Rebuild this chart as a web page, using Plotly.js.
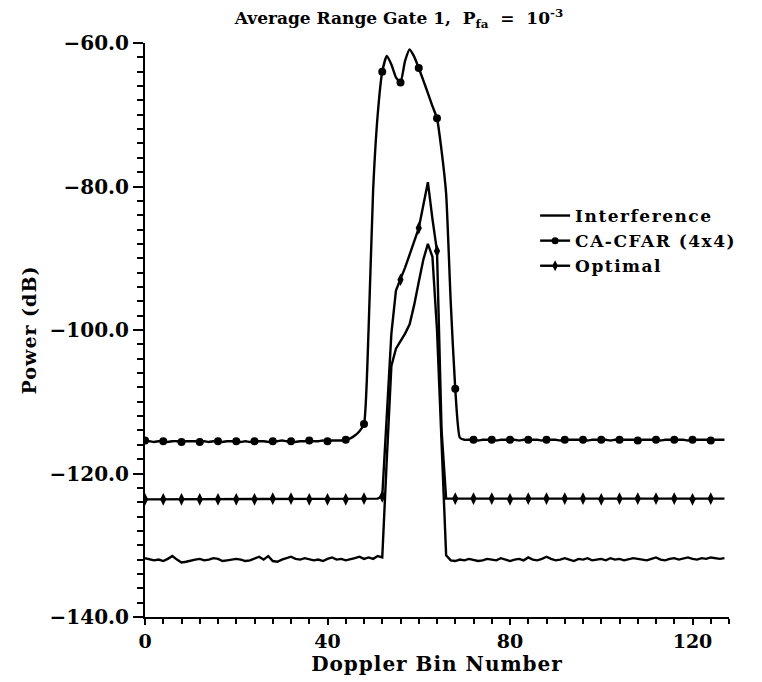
<!DOCTYPE html>
<html>
<head>
<meta charset="utf-8">
<script src="https://cdn.plot.ly/plotly-3.0.1.min.js"></script>
<style>
html,body{margin:0;padding:0;background:#fff;}
#chart{width:762px;height:682px;}
.legendtext{letter-spacing:1.5px;}
.xtitle,.ytitle{letter-spacing:1px;}
</style>
</head>
<body>
<div id="chart"></div>
<script>
// Doppler bins 0..127
const bins = Array.from({length: 128}, (_, i) => i);

// Interference (dB)
const interference = [
-131.8,-131.9,-132.1,-132.0,-132.2,-131.9,-131.5,-132.0,-132.4,-132.3,
-132.1,-132.0,-131.9,-132.1,-132.0,-131.8,-131.9,-132.2,-132.1,-132.0,
-131.9,-132.0,-132.2,-132.1,-131.9,-131.6,-132.0,-131.5,-132.2,-132.3,
-132.0,-131.8,-131.6,-131.9,-132.0,-131.8,-131.9,-132.1,-132.0,-132.2,
-131.9,-131.7,-132.0,-131.9,-132.1,-132.0,-131.8,-131.6,-131.9,-131.7,
-131.9,-131.5,-131.7,-118.0,-105.0,-102.6,-101.6,-100.5,-99.2,-96.5,
-93.3,-90.2,-88.0,-89.8,-100.0,-116.0,-131.4,-132.1,-132.2,-132.0,
-132.1,-131.9,-132.0,-132.2,-132.1,-131.9,-132.0,-132.1,-131.8,-132.0,
-132.2,-132.0,-131.9,-132.1,-131.7,-132.0,-132.1,-131.9,-131.6,-131.9,
-132.1,-132.0,-131.8,-132.0,-132.2,-131.9,-132.0,-131.8,-132.1,-132.0,
-131.9,-132.1,-131.8,-132.0,-131.9,-132.1,-132.0,-131.8,-131.9,-132.0,
-132.1,-131.9,-131.7,-132.0,-132.1,-131.9,-131.8,-132.0,-131.9,-131.7,
-131.9,-132.0,-131.8,-131.9,-131.7,-131.8,-131.9,-131.8
];

// CA-CFAR (4x4) (dB)
const cacfar = [
-115.4,-115.5,-115.6,-115.5,-115.5,-115.6,-115.5,-115.5,-115.6,-115.5,
-115.5,-115.5,-115.6,-115.5,-115.6,-115.5,-115.5,-115.6,-115.5,-115.5,
-115.5,-115.6,-115.5,-115.6,-115.5,-115.5,-115.5,-115.6,-115.5,-115.5,
-115.4,-115.5,-115.5,-115.6,-115.5,-115.5,-115.4,-115.5,-115.5,-115.4,
-115.5,-115.4,-115.4,-115.4,-115.3,-115.1,-114.7,-114.1,-113.1,-100.0,
-80.5,-70.0,-64.0,-61.8,-63.0,-64.8,-65.5,-62.5,-60.9,-61.9,
-63.5,-65.2,-67.0,-68.8,-70.5,-75.0,-81.0,-96.0,-108.2,-115.0,
-115.3,-115.3,-115.3,-115.4,-115.3,-115.3,-115.3,-115.4,-115.3,-115.3,
-115.3,-115.3,-115.4,-115.3,-115.3,-115.3,-115.3,-115.4,-115.3,-115.3,
-115.3,-115.4,-115.3,-115.3,-115.3,-115.3,-115.3,-115.4,-115.3,-115.3,
-115.3,-115.3,-115.4,-115.3,-115.3,-115.3,-115.3,-115.3,-115.4,-115.3,
-115.3,-115.3,-115.3,-115.4,-115.3,-115.3,-115.3,-115.3,-115.3,-115.4,
-115.3,-115.3,-115.3,-115.3,-115.4,-115.3,-115.3,-115.3
];

// Optimal (dB)
const optimal = [
-123.6,-123.6,-123.5,-123.6,-123.6,-123.6,-123.5,-123.6,-123.6,-123.6,
-123.5,-123.6,-123.6,-123.6,-123.5,-123.6,-123.6,-123.6,-123.6,-123.5,
-123.6,-123.6,-123.6,-123.5,-123.6,-123.6,-123.6,-123.6,-123.5,-123.6,
-123.6,-123.6,-123.5,-123.6,-123.6,-123.6,-123.6,-123.5,-123.6,-123.6,
-123.6,-123.5,-123.6,-123.6,-123.6,-123.5,-123.6,-123.6,-123.5,-123.6,
-123.6,-123.5,-123.2,-111.0,-100.5,-94.5,-93.0,-91.3,-89.5,-87.6,
-85.8,-82.6,-79.4,-84.5,-89.0,-114.0,-123.5,-123.5,-123.5,-123.6,
-123.5,-123.5,-123.5,-123.5,-123.6,-123.5,-123.5,-123.5,-123.5,-123.5,
-123.6,-123.5,-123.5,-123.5,-123.5,-123.5,-123.6,-123.5,-123.5,-123.5,
-123.5,-123.5,-123.5,-123.6,-123.5,-123.5,-123.5,-123.5,-123.5,-123.5,
-123.6,-123.5,-123.5,-123.5,-123.5,-123.5,-123.5,-123.6,-123.5,-123.5,
-123.5,-123.5,-123.5,-123.5,-123.6,-123.5,-123.5,-123.5,-123.5,-123.5,
-123.6,-123.5,-123.5,-123.5,-123.5,-123.5,-123.5,-123.5
];

const seriesNames = ["Interference", "CA-CFAR (4x4)", "Optimal"];
const xTickVals = [0, 40, 80, 120];
const yTickVals = [-140, -120, -100, -80, -60];
const markerStep = 4;

const FONT = "DejaVu Serif, Liberation Serif, serif";
const BLACK = "#000";

function every(arr, step) { return arr.filter((_, i) => i % step === 0); }

const traces = [];
traces.push({x: bins, y: interference, mode: "lines", line: {color: BLACK, width: 2.4}, showlegend: false, hoverinfo: "skip"});
traces.push({x: bins, y: cacfar, mode: "lines", line: {color: BLACK, width: 2.4, shape: "spline", smoothing: 0.5}, showlegend: false, hoverinfo: "skip"});
traces.push({x: bins, y: optimal, mode: "lines", line: {color: BLACK, width: 2.4}, showlegend: false, hoverinfo: "skip"});
// markers every 4 bins
traces.push({x: every(bins, markerStep), y: every(cacfar, markerStep), mode: "markers",
  marker: {symbol: "circle", size: 8, color: BLACK}, showlegend: false});
traces.push({x: every(bins, markerStep), y: every(optimal, markerStep), mode: "markers",
  marker: {symbol: "diamond-tall", size: 9, color: BLACK}, showlegend: false});
// legend entries
traces.push({x: [null], y: [null], mode: "lines", name: seriesNames[0], line: {color: BLACK, width: 2.4}});
traces.push({x: [null], y: [null], mode: "lines+markers", name: seriesNames[1], line: {color: BLACK, width: 2.4},
  marker: {symbol: "circle", size: 7, color: BLACK}});
traces.push({x: [null], y: [null], mode: "lines+markers", name: seriesNames[2], line: {color: BLACK, width: 2.4},
  marker: {symbol: "diamond-tall", size: 8, color: BLACK}});

const layout = {
  width: 762, height: 682,
  margin: {l: 145, r: 33, t: 43, b: 65},
  paper_bgcolor: "#fff", plot_bgcolor: "#fff",
  font: {family: FONT, color: BLACK, size: 18, weight: "bold"},
  title: {
    text: "Average Range Gate 1,  P<sub>fa</sub>  =  10<sup>-3</sup>",
    font: {family: FONT, size: 17, color: BLACK, weight: "bold"},
    x: 399/762, xref: "container", xanchor: "center",
    y: 1 - 18/682, yref: "container", yanchor: "middle"
  },
  xaxis: {
    range: [0, 128], tickmode: "array", tickvals: xTickVals, ticktext: xTickVals.map(String),
    ticks: "outside", ticklen: 6, tickwidth: 2, tickcolor: BLACK,
    minor: {dtick: markerStep, tick0: 0, ticks: "outside", ticklen: 5, tickwidth: 2, tickcolor: BLACK, showgrid: false},
    showline: true, linecolor: BLACK, linewidth: 2, showgrid: false, zeroline: false,
    tickfont: {family: FONT, size: 19, color: BLACK, weight: "bold"},
    title: {text: "Doppler Bin Number", font: {family: FONT, size: 20, color: BLACK, weight: "bold"}, standoff: 0}
  },
  yaxis: {
    range: [-140, -60], tickmode: "array", tickvals: yTickVals, ticktext: yTickVals.map(v => "\u2212" + Math.abs(v).toFixed(1)),
    ticks: "outside", ticklen: 10, tickwidth: 2, tickcolor: BLACK,
    minor: {dtick: 2, tick0: -140, ticks: "outside", ticklen: 6, tickwidth: 2, tickcolor: BLACK, showgrid: false},
    showline: true, linecolor: BLACK, linewidth: 2, showgrid: false, zeroline: false,
    tickfont: {family: FONT, size: 20, color: BLACK, weight: "bold"},
    title: {text: "Power (dB)", font: {family: FONT, size: 19, color: BLACK, weight: "bold"}, standoff: 8}
  },
  legend: {
    x: 0.668, y: 0.73, xanchor: "left", yanchor: "top",
    bgcolor: "rgba(0,0,0,0)", borderwidth: 0, tracegroupgap: 0,
    font: {family: FONT, size: 17, color: BLACK, weight: "bold"}
  },
  showlegend: true
};

Plotly.newPlot("chart", traces, layout, {displayModeBar: false, staticPlot: true});
</script>
</body>
</html>
